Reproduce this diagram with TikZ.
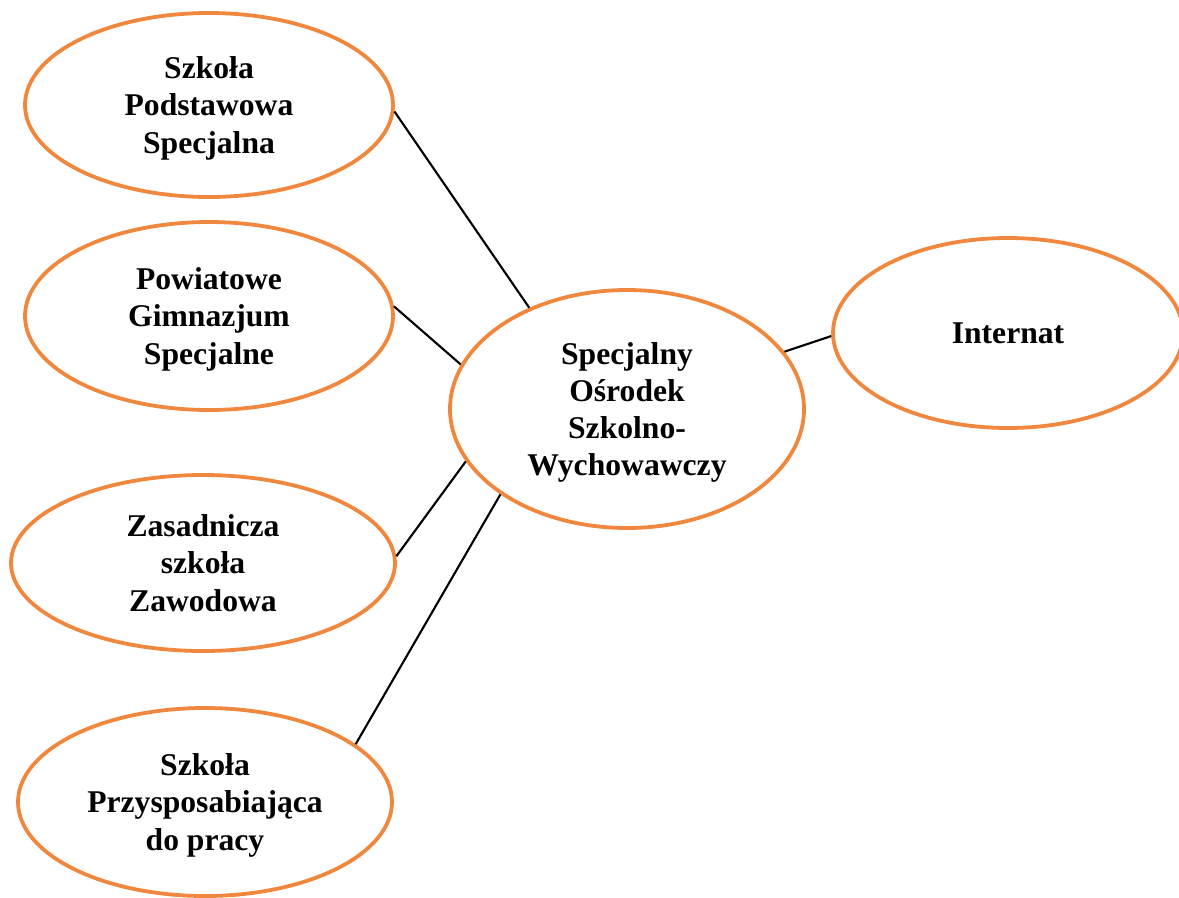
\documentclass[tikz,border=0pt]{standalone}
\usepackage{fontspec}
\setmainfont{Liberation Serif}
\usetikzlibrary{shapes.geometric}
\definecolor{ramka}{RGB}{240,135,62}
\begin{document}
\begin{tikzpicture}[
  szkola/.style={draw=ramka, line width=2.7pt, ellipse, inner sep=0pt, align=center,
    font=\bfseries\fontsize{22.5}{26.5}\selectfont, text depth=-5pt},
  linia/.style={draw, line width=1.5pt}]
\useasboundingbox (0,0) rectangle (29.475,-22.425);
\node[szkola, minimum width=9.2cm, minimum height=4.6cm] (1) at (5.225,-2.625) {Szkoła\\Podstawowa\\Specjalna};
\node[szkola, minimum width=9.2cm, minimum height=4.7cm] (2) at (5.225,-7.9) {Powiatowe\\Gimnazjum\\Specjalne};
\node[szkola, minimum width=8.85cm, minimum height=5.95cm] (3) at (15.675,-10.225) {Specjalny\\Ośrodek\\Szkolno-\\Wychowawczy};
\node[szkola, minimum width=8.75cm, minimum height=4.75cm] (4) at (25.2,-8.325) {Internat};
\node[szkola, minimum width=9.6cm, minimum height=4.4cm] (5) at (5.075,-14.075) {Zasadnicza\\szkoła\\Zawodowa};
\node[szkola, minimum width=9.35cm, minimum height=4.7cm] (6) at (5.125,-20.05) {Szkoła\\Przysposabiająca\\do pracy};
\path[linia] (1.-2) -- (3.134);
\path[linia] (2.3) -- (3.165);
\path[linia] (5.2) -- (3.198);
\path[linia] (6.21) -- (3.214);
\path[linia] (3.20) -- (4.181);
\end{tikzpicture}
\end{document}
